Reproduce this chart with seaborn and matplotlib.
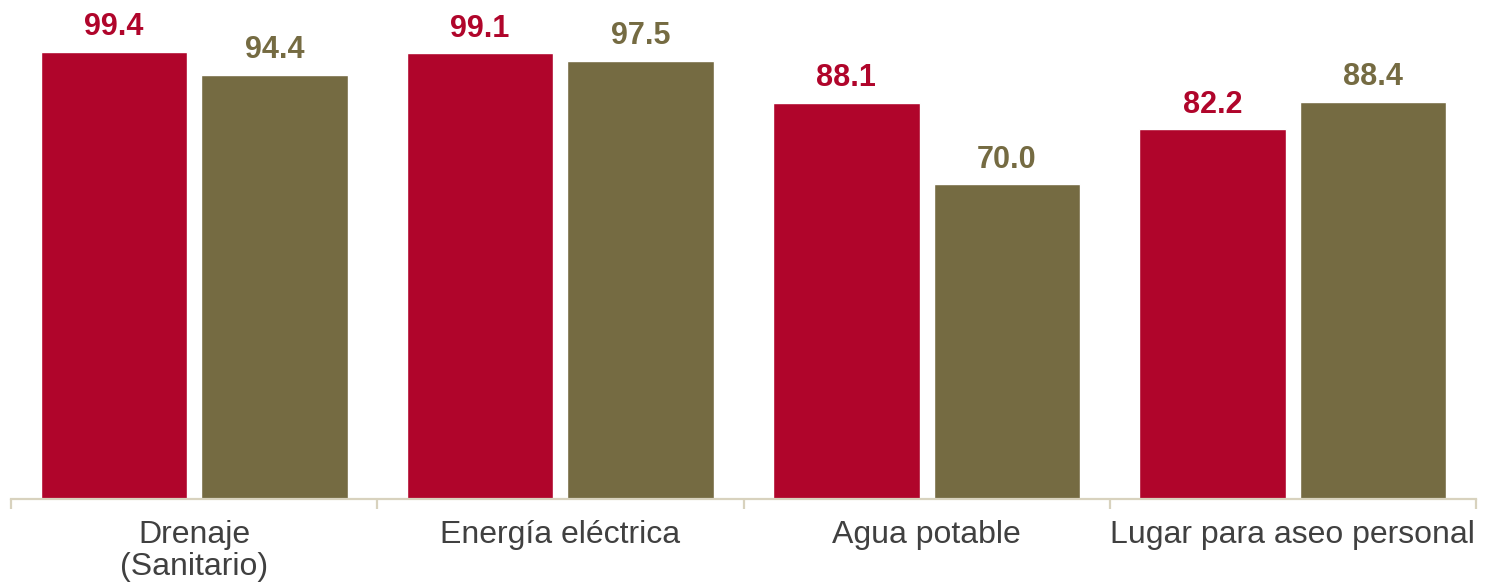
import pandas as pd
import seaborn as sns
import matplotlib.pyplot as plt
from matplotlib.ticker import FixedLocator

# Valores
categorias = ["Drenaje\n(Sanitario)", "Energía eléctrica", "Agua potable", "Lugar para aseo personal"]
serie_1 = [99.4, 99.1, 88.1, 82.2]
serie_2 = [94.4, 97.5, 70.0, 88.4]
series = ["Serie 1", "Serie 2"]
colores = ["#B0052B", "#756B42"]

df = pd.DataFrame({
    "categoria": categorias * 2,
    "valor": serie_1 + serie_2,
    "serie": [series[0]] * len(categorias) + [series[1]] * len(categorias),
})

sns.set_style("white")
plt.rcParams["font.family"] = ["Liberation Sans", "DejaVu Sans"]

fig = plt.figure(figsize=(15.09, 5.85), dpi=100)
ax = fig.add_axes([11 / 1509, 86 / 585, 1465 / 1509, 499 / 585])

sns.barplot(data=df, x="categoria", y="valor", hue="serie", palette=colores,
            width=0.876, gap=0.087, legend=False, ax=ax, saturation=1)

for cont, col in zip(ax.containers, colores):
    for bar in cont:
        h = bar.get_height()
        ax.annotate(f"{h:.1f}", (bar.get_x() + bar.get_width() / 2, h),
                    xytext=(0, 12), textcoords="offset points",
                    ha="center", va="baseline", fontsize=22, fontweight="bold", color=col)

ax.set_xlim(-0.5, len(categorias) - 0.5)
ax.set_ylim(0, 111)
ax.set_xlabel("")
ax.set_ylabel("")
ax.set_yticks([])

for s in ["top", "right", "left"]:
    ax.spines[s].set_visible(False)
ax.spines["bottom"].set_color("#D8D2BE")
ax.spines["bottom"].set_linewidth(1.6)

ax.xaxis.set_minor_locator(FixedLocator([i - 0.5 for i in range(len(categorias) + 1)]))
ax.tick_params(axis="x", which="major", length=0, pad=15, labelsize=23, labelcolor="#404040")
ax.tick_params(axis="x", which="minor", length=7.5, width=1.6, color="#D8D2BE", bottom=True)
for t in ax.get_xticklabels():
    t.set_linespacing(1.08)

fig.savefig("out.png", dpi=100)
